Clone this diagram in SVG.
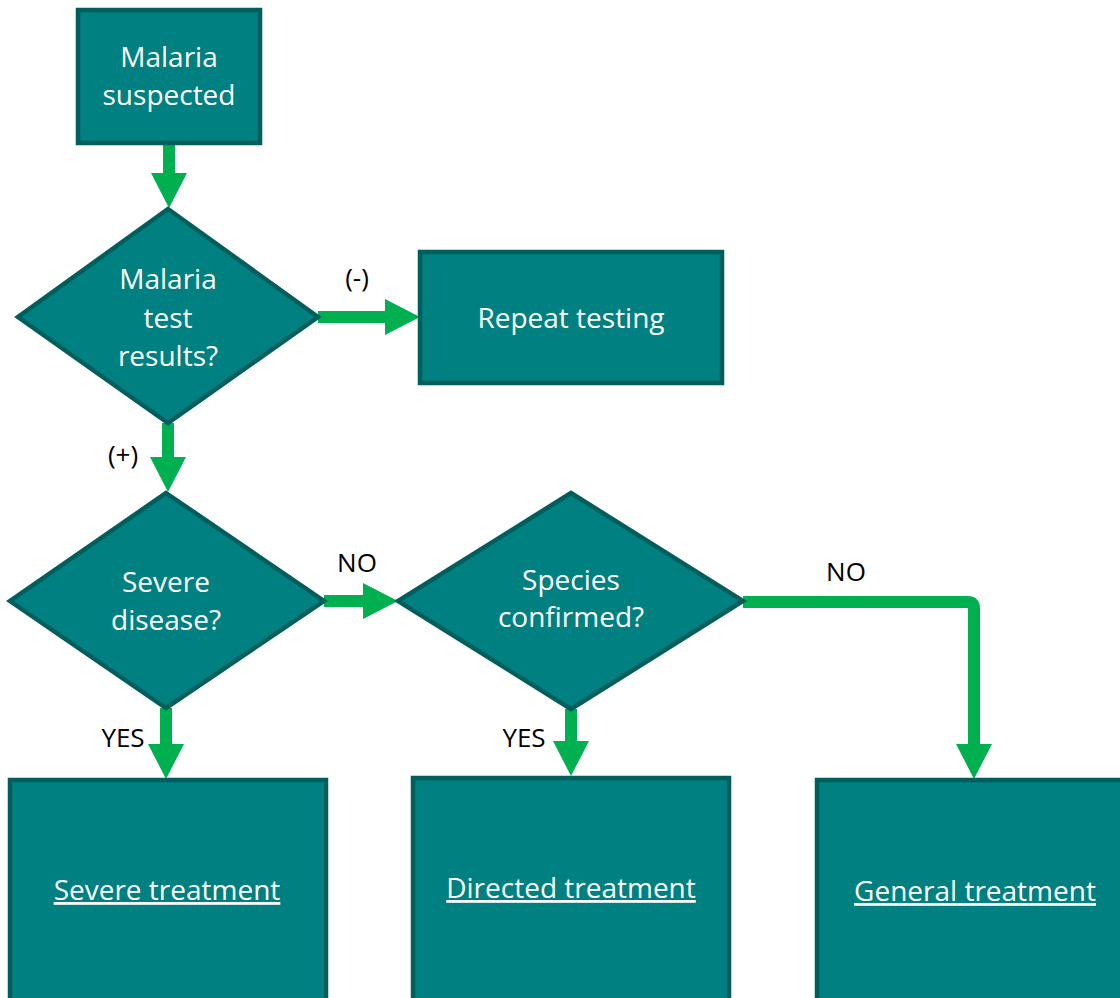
<svg xmlns="http://www.w3.org/2000/svg" width="1120" height="998" viewBox="0 0 1120 998">
<style>
.n{fill:#008080;stroke:#005E5C;stroke-width:4.5;stroke-linejoin:miter}
.t{font-family:"Open Sans",Lato,sans-serif;font-size:28px;fill:#ffffff;text-anchor:middle}
.u{text-decoration:underline}
.l{font-family:"Open Sans",Lato,sans-serif;font-size:26px;fill:#000000;text-anchor:middle}
.c{fill:none;stroke:#00B050;stroke-width:12;stroke-linejoin:round}
</style>
<defs>
<marker id="ah" markerUnits="userSpaceOnUse" markerWidth="36" markerHeight="36" viewBox="0 0 35 36" refX="1" refY="18" orient="auto">
<path d="M0,0 L35,18 L0,36 Z" fill="#00B050"/>
</marker>
</defs>
<rect width="1120" height="998" fill="#ffffff"/>
<g id="connectors">
<path class="c" d="M169,143 V174" marker-end="url(#ah)"/>
<path class="c" d="M318,317 H386" marker-end="url(#ah)"/>
<path class="c" d="M168,423 V458" marker-end="url(#ah)"/>
<path class="c" d="M324,601 H364" marker-end="url(#ah)"/>
<path class="c" d="M166,708 V745" marker-end="url(#ah)"/>
<path class="c" d="M571,709 V742" marker-end="url(#ah)"/>
<path class="c" d="M743,602 H968 Q974,602 974,608 V745" marker-end="url(#ah)"/>
<text class="l" x="357" y="287">(-)</text>
<text class="l" x="123" y="464">(+)</text>
<text class="l" x="357" y="572">NO</text>
<text class="l" x="123" y="747">YES</text>
<text class="l" x="524" y="747">YES</text>
<text class="l" x="846" y="581">NO</text>
</g>
<g id="malaria-suspected">
<rect class="n" x="78" y="10" width="182" height="133"/>
<text class="t" x="169" y="67">Malaria</text>
<text class="t" x="169" y="105">suspected</text>
</g>
<g id="test-results">
<polygon class="n" points="168,209 318,317 168,423 18,317"/>
<text class="t" x="168" y="289">Malaria</text>
<text class="t" x="168" y="328">test</text>
<text class="t" x="168" y="366">results?</text>
</g>
<g id="repeat-testing">
<rect class="n" x="420" y="252" width="302" height="131"/>
<text class="t" x="571" y="328">Repeat testing</text>
</g>
<g id="severe-disease">
<polygon class="n" points="166,493 324,601 166,708 10,601"/>
<text class="t" x="166" y="592">Severe</text>
<text class="t" x="166" y="630">disease?</text>
</g>
<g id="species-confirmed">
<polygon class="n" points="571,493 743,601 571,709 398,601"/>
<text class="t" x="571" y="590">Species</text>
<text class="t" x="571" y="627">confirmed?</text>
</g>
<g id="severe-treatment">
<rect class="n" x="10" y="780" width="316" height="230"/>
<text class="t u" x="167" y="900">Severe treatment</text>
</g>
<g id="directed-treatment">
<rect class="n" x="413" y="778" width="316" height="230"/>
<text class="t u" x="571" y="898">Directed treatment</text>
</g>
<g id="general-treatment">
<rect class="n" x="817" y="780" width="316" height="230"/>
<text class="t u" x="975" y="901">General treatment</text>
</g>
</svg>
